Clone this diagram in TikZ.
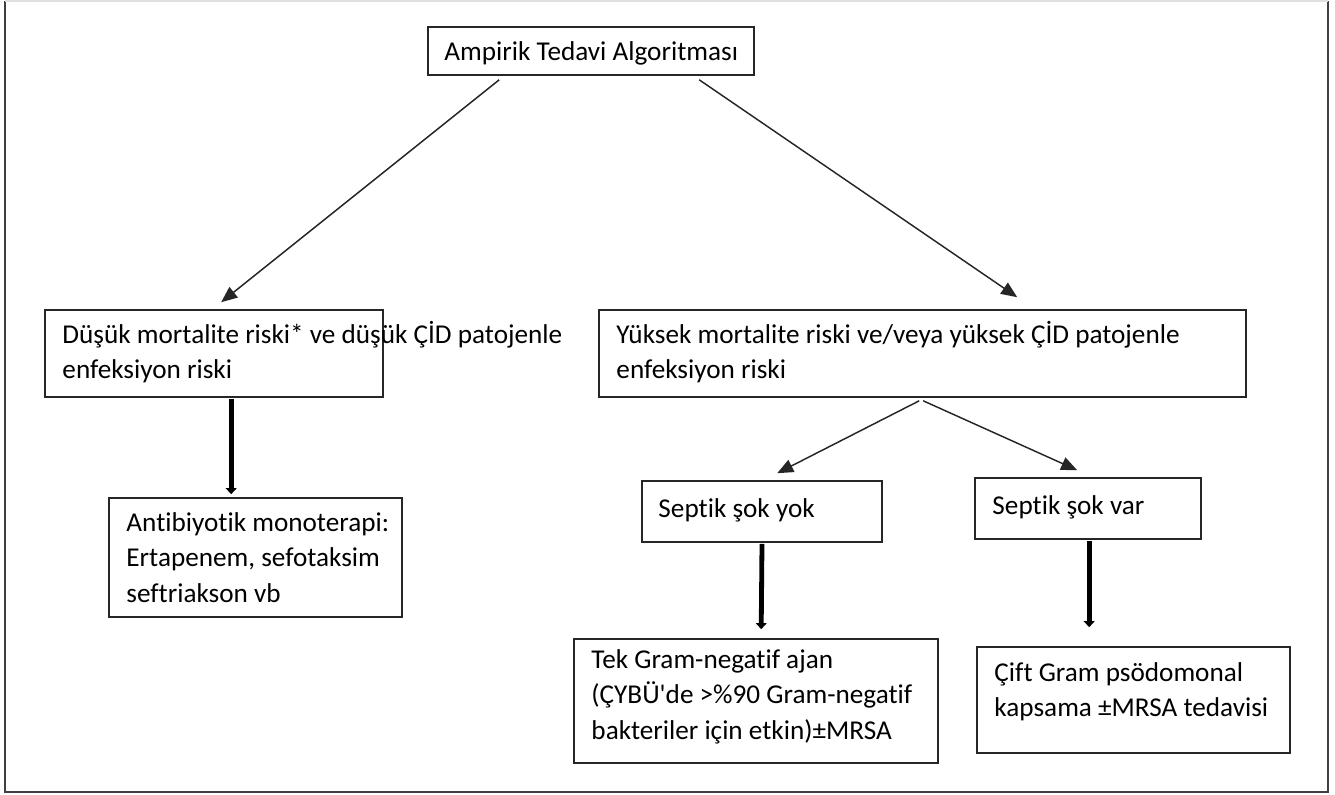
\documentclass[tikz,border=0pt]{standalone}
\usepackage{fontspec}
\setmainfont{Carlito}[Ligatures=CommonOff]
\usetikzlibrary{arrows.meta,calc,fit}
\newcommand\fstrut{\rule{0pt}{19.5pt}}
\begin{document}
\begin{tikzpicture}[x=0.75pt,y=-0.75pt,
  box/.style={draw=black!85, line width=1.2pt, inner sep=0pt},
  txt/.style={anchor=north west, inner sep=0pt, align=left, font=\fontsize{20.4}{26.5}\selectfont},
  thinarrow/.style={draw=black!85, line width=1.1pt, -{Triangle[length=12pt,width=10pt]}},
  thickarrow/.style={draw=black, line width=3.6pt, -{Triangle[length=4.5pt,width=8pt]}},
  frameline/.style={draw=black!75, line width=1.2pt}]
\useasboundingbox (0,0) rectangle (1335,795);
\draw[frameline] (5,1) -- (5,792) -- (1328,792) -- (1328,1);
\draw[draw=black!12, line width=1pt] (5,1) -- (1328,1);

\node[box, fit={(428,27) (754,75)}] (top) {};
\node[box, fit={(45,310) (383,397)}] (L) {};
\node[box, fit={(599,310) (1246,397)}] (R) {};
\node[box, fit={(109,498) (402,617)}] (A) {};
\node[box, fit={(642,481) (882,542)}] (Y) {};
\node[box, fit={(975,478) (1201,539)}] (V) {};
\node[box, fit={(574,639) (938,763)}] (T) {};
\node[box, fit={(977,647) (1290,753)}] (C) {};

\node[txt] (ttop) at ($(top.north west)+(17,8)$) {\fstrut Ampirik Tedavi Algoritması};
\node[txt] (tL) at ($(L.north west)+(18,8)$) {\fstrut Düşük mortalite riski* ve düşük ÇİD patojenle\\enfeksiyon riski};
\node[txt] (tR) at ($(R.north west)+(18,8)$) {\fstrut Yüksek mortalite riski ve/veya yüksek ÇİD patojenle\\enfeksiyon riski};
\node[txt] (tA) at ($(A.north west)+(18,8)$) {\fstrut Antibiyotik monoterapi:\\Ertapenem, sefotaksim\\seftriakson vb};
\node[txt] (tY) at ($(Y.north west)+(17,11)$) {\fstrut Septik şok yok};
\node[txt] (tV) at ($(V.north west)+(18,11)$) {\fstrut Septik şok var};
\node[txt] (tT) at ($(T.north west)+(18,4)$) {\fstrut Tek Gram-negatif ajan\\(ÇYBÜ\textquotesingle de >\%90 Gram-negatif\\bakteriler için etkin)±MRSA};
\node[txt] (tC) at ($(C.north west)+(18,9)$) {\fstrut Çift Gram psödomonal\\kapsama ±MRSA tedavisi};

\draw[thinarrow] ($(top.south west)+(72,4)$) -- ($(L.north west)+(177,-7)$);
\draw[thinarrow] ($(top.south west)+(272,4)$) -- ($(R.north west)+(419,-12)$);
\draw[thinarrow] ($(R.south west)+(321,3)$) -- ($(Y.north west)+(136,-7)$);
\draw[thinarrow] ($(R.south west)+(325,3)$) -- ($(V.north west)+(103,-7)$);
\draw[thickarrow] ($(L.south west)+(187,1)$) -- ($(A.north west)+(123,-3)$);
\draw[thickarrow] ($(Y.south)+(0,1)$) -- ($(T.north west)+(188,-9)$);
\draw[thickarrow] ($(V.south west)+(115,1)$) -- ($(C.north west)+(113,-19)$);
\end{tikzpicture}
\end{document}
